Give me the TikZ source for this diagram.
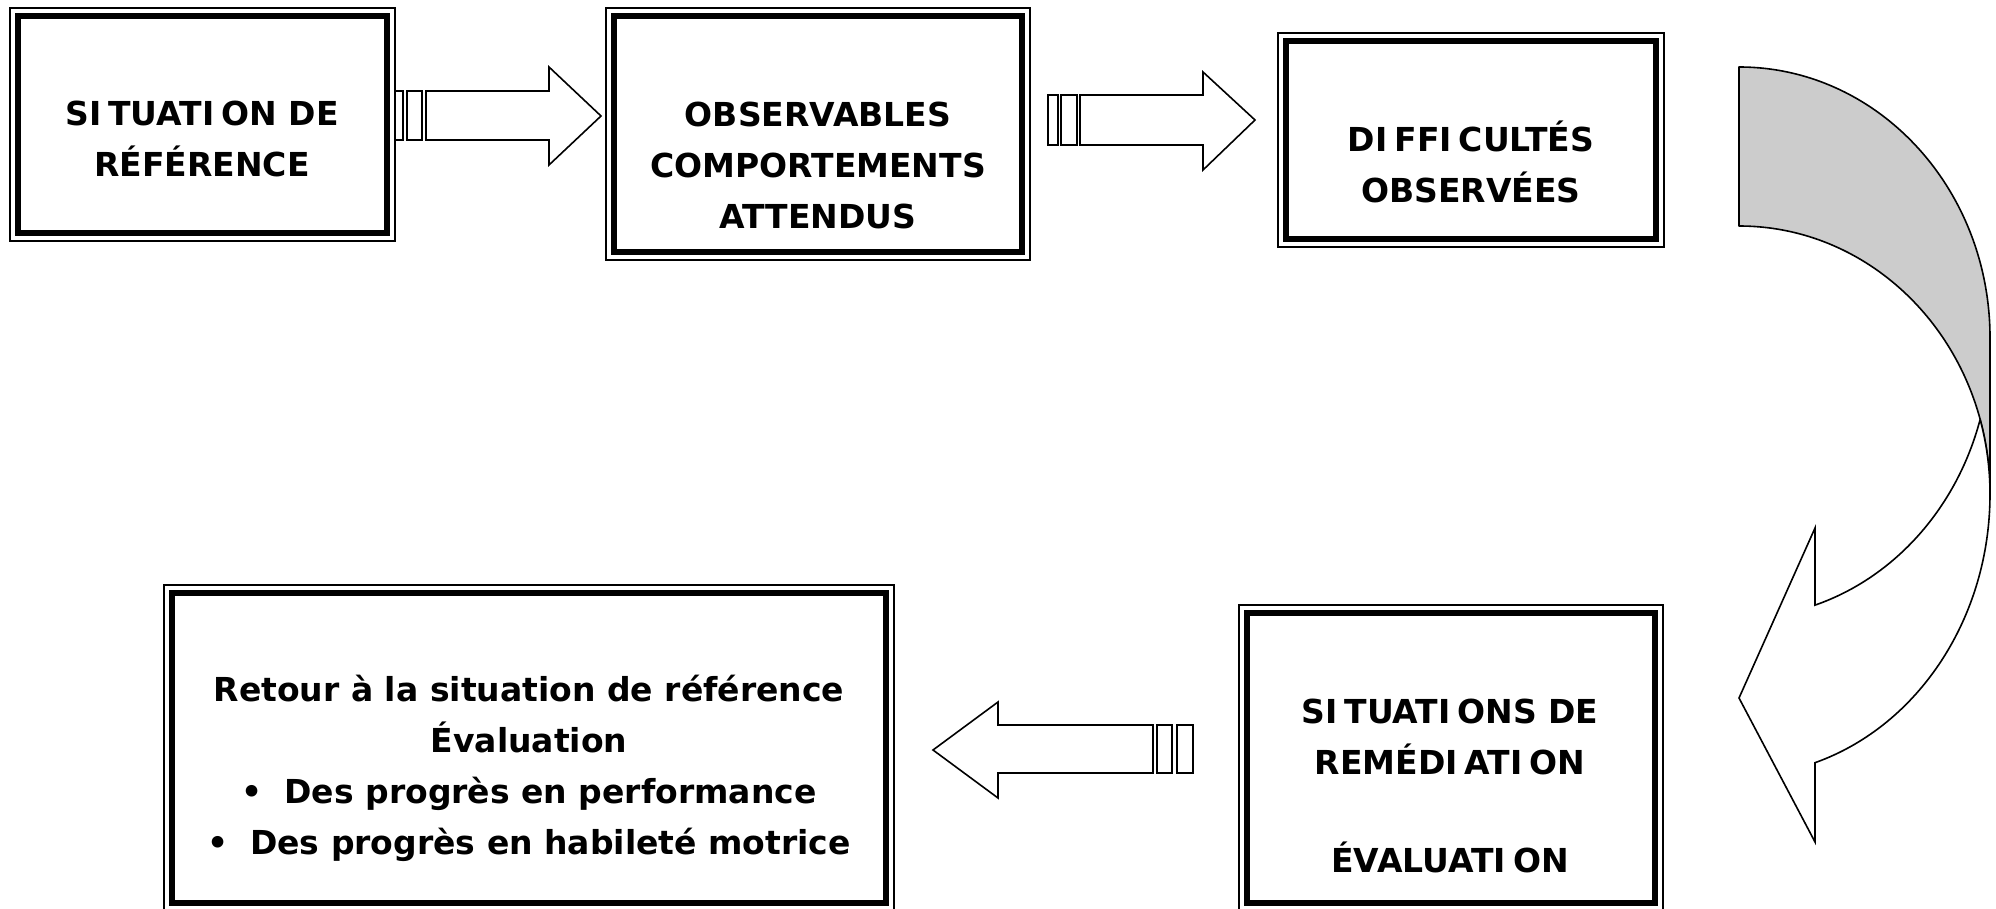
\documentclass[tikz,border=0pt]{standalone}
\usepackage{fontspec}
\setmainfont{DejaVu Sans}
\definecolor{backgray}{RGB}{204,204,204}
\newcommand{\Isp}{I\kern7pt\relax}
\begin{document}
\begin{tikzpicture}[x=1pt,y=-1pt,
  thickbox/.style={draw, line width=6pt, inner sep=0pt, outer sep=0pt},
  thinframe/.style={line width=1.4pt},
  blockarrow/.style={draw, line width=1.6pt, fill=white, line join=miter},
  stripe/.style={draw, line width=1.6pt, fill=white},
  lbl/.style={align=center, font=\fontsize{33}{51}\selectfont\bfseries, inner sep=0pt}]
\useasboundingbox (0,0) rectangle (1996,909);

% boxes
\node[thickbox, minimum width=369pt, minimum height=217pt] (b1) at (202.5,124.5) {};
\draw[thinframe] ([shift={(-8,-8)}]b1.north west) rectangle ([shift={(8,8)}]b1.south east);
\node[thickbox, minimum width=408pt, minimum height=236pt] (b2) at (818,134) {};
\draw[thinframe] ([shift={(-8,-8)}]b2.north west) rectangle ([shift={(8,8)}]b2.south east);
\node[thickbox, minimum width=370pt, minimum height=198pt] (b3) at (1471,140) {};
\draw[thinframe] ([shift={(-8,-8)}]b3.north west) rectangle ([shift={(8,8)}]b3.south east);
\node[thickbox, minimum width=408pt, minimum height=290pt] (b4) at (1451,758) {};
\draw[thinframe] ([shift={(-8,-8)}]b4.north west) rectangle ([shift={(8,8)}]b4.south east);
\node[thickbox, minimum width=714pt, minimum height=310pt] (b5) at (529,748) {};
\draw[thinframe] ([shift={(-8,-8)}]b5.north west) rectangle ([shift={(8,8)}]b5.south east);

% labels
\node[lbl] (t1) at (202,138.5) {S\Isp TUAT\Isp ON DE\\RÉFÉRENCE};
\node[lbl] (t2) at (818,165) {OBSERVABLES\\COMPORTEMENTS\\ATTENDUS};
\node[lbl] (t3) at (1471,161.5) {D\Isp FF\Isp CULTÉS\\OBSERVÉES};
\node[lbl] (t4) at (1450,786) {S\Isp TUAT\Isp ONS DE\\REMÉD\Isp AT\Isp ON\\[47pt]ÉVALUAT\Isp ON};
\node[lbl] (t5) at (529,768) {Retour à la situation de référence\\Évaluation\\
  \textbullet\hspace{22pt}Des progrès en performance\\
  \textbullet\hspace{22pt}Des progrès en habileté motrice};

% straight block arrows
\draw[stripe] (395,91) rectangle (403,140);
\draw[stripe] (407,91) rectangle (422,140);
\draw[blockarrow] (426,91) -- (549,91) -- (549,67) -- (601,116) -- (549,165) -- (549,140) -- (426,140) -- cycle;

\draw[stripe] (1048,95) rectangle (1058,145);
\draw[stripe] (1061,95) rectangle (1077,145);
\draw[blockarrow] (1080,95) -- (1203,95) -- (1203,72) -- (1255,120) -- (1203,170) -- (1203,145) -- (1080,145) -- cycle;

\draw[stripe] (1157,725) rectangle (1172,773);
\draw[stripe] (1177,725) rectangle (1193,773);
\draw[blockarrow] (1153,725) -- (998,725) -- (998,702) -- (933,750) -- (998,798) -- (998,773) -- (1153,773) -- cycle;

% curved arrow: back (grey) part
\draw[line width=1.6pt, fill=backgray, line join=round] (1739,67)
  arc[start angle=-90, end angle=0, x radius=251, y radius=271]
  -- (1990,494)
  arc[start angle=0, end angle=-90, x radius=251, y radius=268] -- cycle;
% curved arrow: front part with head
\draw[line width=1.6pt, fill=white, line join=miter] (1980.1,419.5)
  arc[start angle=16.14, end angle=72.37, x radius=251, y radius=275]
  -- (1815,528) -- (1739,698) -- (1815,842) -- (1815,762.7)
  arc[start angle=72.37, end angle=0, x radius=251, y radius=282]
  arc[start angle=0, end angle=-16.14, x radius=251, y radius=268] -- cycle;
\end{tikzpicture}
\end{document}
